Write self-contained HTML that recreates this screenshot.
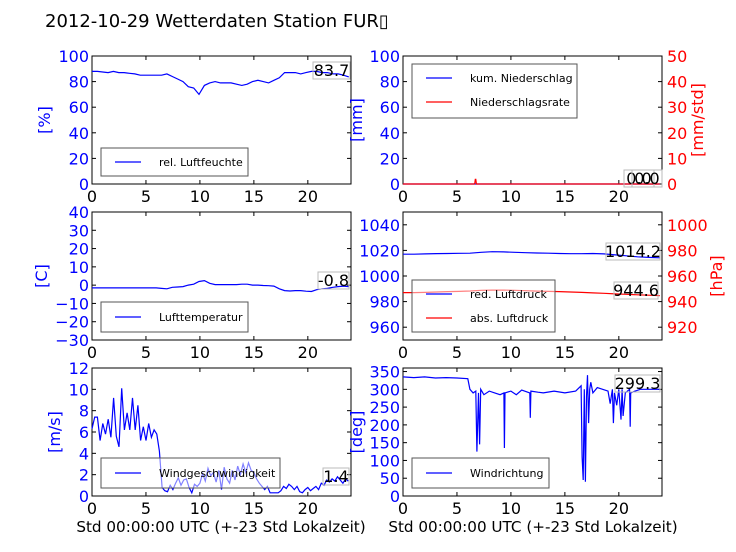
<!DOCTYPE html>
<html><head><meta charset="utf-8"><style>
body{margin:0;background:#fff;}
svg{display:block;font-family:"DejaVu Sans","Liberation Sans",sans-serif;}
</style></head><body>
<svg id="chart" width="736" height="552" viewBox="0 0 736 552" xmlns="http://www.w3.org/2000/svg">
<rect width="736" height="552" fill="#fff"/>
<text x="45" y="27" font-size="18" fill="#000">2012-10-29 Wetterdaten Station FUR&#9647;</text>
</svg>
<script>
// ---- data ----
const humidity = [88,88,87.5,87,88,87,87,86.5,86,85,85,85,85,85,86,84,82,80,76,75,70,77,79,80,79,79,79,78,77,78,80,81,80,79,81,83,87,87,87,86,87,88,88,87,87,86,86,85,83.7];
const temperature = [-1.5,-1.5,-1.5,-1.5,-1.5,-1.5,-1.5,-1.5,-1.5,-1.5,-1.5,-1.5,-1.5,-1.8,-2,-1.2,-1,-0.8,0,0.5,2,2.5,1,0.3,0.3,0.3,0.3,0.3,0.5,0.5,0,0,-0.2,-0.3,-0.5,-2,-3,-3.2,-3,-3,-3.3,-3.5,-2.5,-2,-1.8,-1.2,-0.8,-0.5,-0.8];
const pressRed = [1017,1017,1017.3,1017.5,1017.6,1017.7,1017.8,1018.5,1019,1018.8,1018.5,1018.2,1018,1017.8,1017.6,1017.4,1017.4,1017.6,1017.3,1016.5,1015.8,1015,1014.5,1014.2];
const pressAbs = [947,947,947.2,947.5,947.8,948,948.3,948.8,949,949,948.8,948.5,948.2,948,947.8,947.5,947.2,946.8,946.5,946,945.7,945.3,945,944.6];
const precipCum = [0,0,0,0,0,0,0,0,0,0,0,0,0,0,0,0,0,0,0,0,0,0,0,0];
const precipRateHours = [0,6.6,6.65,6.7,6.75,6.8,23.8];
const precipRate = [0,0,0.3,1.8,1.8,0,0];
const wind = [6.3,7.4,7.4,5.2,6.8,5.8,7.2,5.5,9.2,5.6,4.6,10.1,6.2,7.8,6.2,9.2,6.2,8.5,5.2,6.5,5.2,6.8,5.5,6.2,5.8,4.2,0.8,0.5,0.4,1.0,0.6,1.2,1.7,1.0,1.5,1.6,0.8,0.3,1.1,0.9,1.2,2.1,1.4,2.6,1.9,2.2,1.3,2.4,0.6,2.7,1.6,1.2,2.4,1.5,2.8,2.0,3.0,2.2,3.1,2.4,2.2,1.6,1.2,0.9,0.6,0.9,0.3,0.3,0.3,0.3,0.5,0.9,0.7,1.1,0.9,0.6,0.9,0.4,0.3,0.6,0.8,0.5,0.7,0.9,0.6,1.2,1.0,1.5,1.3,1.6,1.4,1.8,1.5,1.2,1.6,1.4];
const dirHours = [0,1,2,3,4,5,6,6.2,6.5,6.75,6.85,7.0,7.1,7.2,7.5,8,8.5,9,9.35,9.4,9.45,10,10.5,11,11.75,11.8,11.85,12.5,13,14,15,16,16.5,16.6,16.7,16.8,16.9,17.0,17.1,17.2,17.3,17.4,17.6,18,18.5,19,19.2,19.4,19.5,19.6,19.8,20,20.2,20.3,20.4,20.6,21,21.05,21.1,21.5,22,23,23.8];
const dirValues = [335,333,335,332,333,332,330,300,290,295,125,290,145,300,285,295,290,285,290,135,290,295,285,298,290,220,295,292,290,295,290,295,310,110,45,300,40,280,340,205,300,320,290,305,300,295,260,300,205,290,255,300,215,300,225,290,300,195,290,295,300,300,300];
const xTicks = [0,5,10,15,20];

const NS="http://www.w3.org/2000/svg";
const svg=document.getElementById('chart');
function el(tag,attrs,parent,txt){const e=document.createElementNS(NS,tag);for(const k in attrs)e.setAttribute(k,attrs[k]);if(txt!==undefined)e.textContent=txt;(parent||svg).appendChild(e);return e;}
function mk(x0,x1,y0,y1,ymin,ymax){return {x:t=>x0+(t/24)*(x1-x0),y:v=>y1-(v-ymin)/(ymax-ymin)*(y1-y0),x0,x1,y0,y1};}
function frame(p,name,leftTicks,lmin,lmax,rightTicks,rmin,rmax){
  const g=el('g',{});
  
  
  const fr=el('rect',{x:p.x0,y:p.y0,width:p.x1-p.x0,height:p.y1-p.y0,fill:'none',stroke:'#000','stroke-width':1},g);
  
  
  xTicks.forEach(t=>{const X=p.x(t);
    el('line',{x1:X,x2:X,y1:p.y1,y2:p.y1-4,stroke:'#000'},g);
    el('line',{x1:X,x2:X,y1:p.y0,y2:p.y0+4,stroke:'#000'},g);
    const tl=el('text',{x:X,y:p.y1+18,'font-size':16,'text-anchor':'middle',fill:'#000'},g,String(t));
    
    
  });
  const ly=v=>p.y1-(v-lmin)/(lmax-lmin)*(p.y1-p.y0);
  leftTicks.forEach(v=>{const Y=ly(v);
    el('line',{x1:p.x0,x2:p.x0+4,y1:Y,y2:Y,stroke:'#000'},g);
    if(!rightTicks) el('line',{x1:p.x1,x2:p.x1-4,y1:Y,y2:Y,stroke:'#000'},g);
    const tl=el('text',{x:p.x0-3,y:Y+6,'font-size':16,'text-anchor':'end',fill:'#0000ff'},g,String(v).replace('-','\u2212'));
    
    
  });
  if(rightTicks){const ry=v=>p.y1-(v-rmin)/(rmax-rmin)*(p.y1-p.y0);
    rightTicks.forEach(v=>{const Y=ry(v);
      el('line',{x1:p.x1,x2:p.x1-4,y1:Y,y2:Y,stroke:'#000'},g);
      const tl=el('text',{x:p.x1+5,y:Y+6,'font-size':16,'text-anchor':'start',fill:'#ff0000'},g,String(v));
      
      
    });}
  return g;
}
function line(p,xs,ys,col,name){const pts=ys.map((v,i)=>(p.x(xs[i])).toFixed(1)+','+p.y(v).toFixed(1)).join(' ');
  const pl=el('polyline',{points:pts,fill:'none',stroke:col,'stroke-width':1.2});
  
  }
function steps(arr,total){return arr.map((_,i)=>i*total/(arr.length-1));}
function legend(x,y,w,h,items,name){const g=el('g',{});
  
  
  el('rect',{x,y,width:w,height:h,fill:'#fff','fill-opacity':0.5,stroke:'#555','stroke-width':1},g);
  items.forEach((it,i)=>{const cy=y+(items.length==1?h/2:14+i*24);
    el('line',{x1:x+14,x2:x+40,y1:cy,y2:cy,stroke:it[1],'stroke-width':1.2},g);
    const t=el('text',{x:x+58,y:cy+4,'font-size':11,fill:'#000'},g,it[0]);
    
    });}
function annot(x,y,w,txt,name){const g=el('g',{});
  
  
  el('rect',{x,y,width:w,height:17,fill:'none',stroke:'#bbb'},g);
  el('text',{x:x+w/2,y:y+14,'font-size':16,'text-anchor':'middle',fill:'#000'},g,txt);}
function ylabel(x,y,txt,col,name){const t=el('text',{x,y,'font-size':16,fill:col,'text-anchor':'middle',transform:`rotate(-90 ${x} ${y})`},svg,txt);
  
  }

// Panel 1 humidity
const p1=mk(92,351,56,184,0,100);
frame(p1,'humidity-panel',[0,20,40,60,80,100],0,100);
line(p1,steps(humidity,23.8),humidity,'#0000ff','humidity-line');
legend(101,148,147,28,[['rel. Luftfeuchte','#0000ff']],'humidity-legend');
annot(313,62,37,'83.7','humidity-value');
ylabel(50,120,'[%]','#0000ff','humidity-y-title');
// Panel 2 precipitation
const p2=mk(403,662,56,184,0,100);
frame(p2,'precip-panel',[0,20,40,60,80,100],0,100,[0,10,20,30,40,50],0,50);
const p2r=mk(403,662,56,184,0,50);
line(p2,steps(precipCum,23.8),precipCum,'#0000ff','precip-cum-line');
line(p2r,precipRateHours,precipRate,'#ff0000','precip-rate-line');
legend(412,64,165,54,[['kum. Niederschlag','#0000ff'],['Niederschlagsrate','#ff0000']],'precip-legend');
annot(624,170,30,'0.0','precip-cum-value');
annot(632,170,30,'0.0','precip-rate-value');
ylabel(362,120,'[mm]','#0000ff','precip-y-title');
ylabel(703,120,'[mm/std]','#ff0000','precip-y2-title');
// Panel 3 temperature
const p3=mk(92,351,212,340,-30,40);
frame(p3,'temperature-panel',[-30,-20,-10,0,10,20,30,40],-30,40);
line(p3,steps(temperature,23.8),temperature,'#0000ff','temperature-line');
legend(101,302,147,30,[['Lufttemperatur','#0000ff']],'temperature-legend');
annot(318,272,31,'-0.8','temperature-value');
ylabel(47,276,'[C]','#0000ff','temperature-y-title');
// Panel 4 pressure
const p4=mk(403,662,212,340,950,1050);
frame(p4,'pressure-panel',[960,980,1000,1020,1040],950,1050,[920,940,960,980,1000],910,1010);
const p4r=mk(403,662,212,340,910,1010);
line(p4,steps(pressRed,23.8),pressRed,'#0000ff','pressure-red-line');
line(p4r,steps(pressAbs,23.8),pressAbs,'#ff0000','pressure-abs-line');
legend(412,280,143,52,[['red. Luftdruck','#0000ff'],['abs. Luftdruck','#ff0000']],'pressure-legend');
annot(606,243,54,'1014.2','pressure-red-value');
annot(614,282,44,'944.6','pressure-abs-value');
ylabel(722,276,'[hPa]','#ff0000','pressure-y2-title');
// Panel 5 wind speed
const p5=mk(92,351,368,496,0,12);
frame(p5,'wind-speed-panel',[0,2,4,6,8,10,12],0,12);
line(p5,steps(wind,23.75),wind,'#0000ff','wind-speed-line');
legend(101,458,179,30,[['Windgeschwindigkeit','#0000ff']],'wind-speed-legend');
annot(323,468,26,'1.4','wind-speed-value');
ylabel(60,432,'[m/s]','#0000ff','wind-speed-y-title');
// Panel 6 wind direction
const p6=mk(403,662,368,496,0,360);
frame(p6,'wind-dir-panel',[0,50,100,150,200,250,300,350],0,360);
line(p6,dirHours,dirValues,'#0000ff','wind-dir-line');
legend(412,458,137,30,[['Windrichtung','#0000ff']],'wind-dir-legend');
annot(615,375,45,'299.3','wind-dir-value');
ylabel(362,432,'[deg]','#0000ff','wind-dir-y-title');
// x titles
[[221,'x-axis-title-left'],[533,'x-axis-title-right']].forEach(a=>{const t=el('text',{x:a[0],y:532,'font-size':15.2,'text-anchor':'middle',fill:'#000'},svg,'Std 00:00:00 UTC (+-23 Std Lokalzeit)');
  
  });
</script>
</body></html>
